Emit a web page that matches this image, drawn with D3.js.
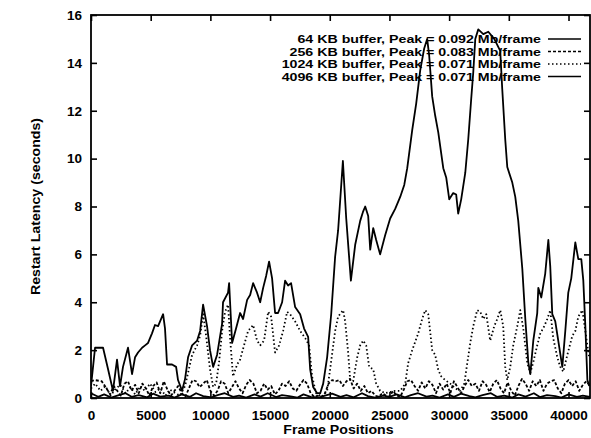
<!DOCTYPE html>
<html>
<head>
<meta charset="utf-8">
<script src="https://cdn.jsdelivr.net/npm/d3@7"></script>
<style>
  html, body { margin: 0; padding: 0; background: #fff; }
  svg { display: block; }
  text { font-family: "Liberation Sans", Arial, Helvetica, sans-serif; font-weight: bold; fill: #000; }
</style>
</head>
<body>
<svg id="chart" width="591" height="438"></svg>
<script>
// Restart latency per frame position for four client buffer sizes.

const xTicks = [0, 5000, 10000, 15000, 20000, 25000, 30000, 35000, 40000];
const yTicks = [0, 2, 4, 6, 8, 10, 12, 14, 16];

const seriesLabels = [
  "64 KB buffer, Peak = 0.092 Mb/frame",
  "256 KB buffer, Peak = 0.083 Mb/frame",
  "1024 KB buffer, Peak = 0.071 Mb/frame",
  "4096 KB buffer, Peak = 0.071 Mb/frame"
];

// 64 KB buffer
const frames64 = [
  0, 340, 1010, 1430, 1840, 2180, 2430, 2680, 3100, 3440,
  3690, 3940, 4280, 4530, 4780, 5110, 5360, 5620, 6040, 6200,
  6370, 6790, 7130, 7290, 7630, 7880, 8130, 8470, 8890, 9140,
  9390, 9720, 9970, 10230, 10560, 10980, 11060, 11480, 11570, 11820,
  12150, 12490, 12740, 13080, 13330, 13580, 13910, 14170, 14420, 14670,
  14920, 15170, 15420, 15670, 16010, 16260, 16510, 16760, 17100, 17520,
  17850, 18190, 18360, 18610, 18940, 19200, 19450, 19780, 20120, 20450,
  20700, 21100, 21380, 21770, 22130, 22550, 22800, 22970, 23220, 23390,
  23640, 23890, 24220, 24640, 25060, 25480, 25900, 26240, 26490, 26910,
  27240, 27580, 27910, 28160, 28330, 28580, 28830, 29090, 29510, 29760,
  30010, 30340, 30590, 30760, 31010, 31350, 31600, 31850, 32020, 32190,
  32440, 32860, 33280, 33780, 34280, 34450, 34700, 34870, 35290, 35540,
  35790, 36130, 36380, 36630, 36800, 37050, 37380, 37470, 37720, 38050,
  38310, 38470, 38640, 38890, 39140, 39480, 39730, 39980, 40230, 40570,
  40820, 41070, 41240, 41410, 41580, 41740
];
const latency64 = [
  0.5, 2.1, 2.1, 1.2, 0.3, 1.6, 0.5, 1.3, 2.1, 1.0,
  1.7, 1.9, 2.1, 2.2, 2.3, 2.7, 3.05, 3.0, 3.5, 2.9,
  1.4, 1.4, 1.3, 0.75, 0.3, 0.8, 1.7, 2.2, 2.4, 2.8,
  3.9, 3.0, 2.0, 1.3, 1.8, 3.1, 4.0, 4.4, 4.8, 2.3,
  2.9, 3.55, 3.3, 4.1, 4.3, 4.8, 4.4, 4.0, 4.6, 5.1,
  5.7, 5.0, 3.55, 3.55, 4.0, 4.9, 4.7, 4.8, 3.8, 3.5,
  2.9, 2.55, 1.2, 0.46, 0.2, 0.2, 0.6, 1.7, 3.5, 5.9,
  7.0, 9.9, 7.5, 4.9, 6.4, 7.4, 7.8, 8.0, 7.6, 6.2,
  7.1, 6.6, 6.0, 6.8, 7.5, 7.9, 8.4, 8.9, 9.6, 11.2,
  12.3, 13.7, 14.6, 15.0, 14.3, 12.6, 11.8, 11.1, 9.6, 9.2,
  8.3, 8.56, 8.5, 7.7, 8.3, 9.4, 10.8, 12.5, 13.6, 15.0,
  15.4, 15.2, 15.3, 15.0, 14.5, 12.9, 10.8, 9.65, 9.0, 8.4,
  7.4, 5.4, 3.3, 1.5, 1.0, 2.4, 3.55, 4.6, 4.2, 5.2,
  6.6, 5.5, 3.5, 3.2, 2.4, 1.3, 2.8, 4.4, 5.0, 6.5,
  5.8, 5.8, 4.9, 3.0, 0.75, 0.5
];

// 256 KB buffer
const frames256 = [
  0, 300, 900, 1300, 1600, 1900, 2200, 2500, 2800, 3100,
  3400, 3700, 4000, 4300, 4600, 4900, 5200, 5500, 5800, 6100,
  6400, 6700, 7000, 7300, 7600, 7900, 8200, 8500, 8800, 9100,
  9400, 9700, 10000, 10300, 10600, 10900, 11200, 11500, 11800, 12100,
  12400, 12700, 13000, 13300, 13600, 13900, 14200, 14500, 14800, 15100,
  15400, 15700, 16000, 16300, 16600, 16900, 17200, 17500, 17800, 18100,
  18400, 18700, 19000, 19300, 19600, 19900, 20200, 20500, 20800, 21100,
  21400, 21700, 22000, 22300, 22600, 22900, 23200, 23500, 23800, 24100,
  24400, 24700, 25000, 25300, 25600, 25900, 26200, 26500, 26800, 27100,
  27400, 27700, 28000, 28300, 28600, 28900, 29200, 29500, 29800, 30100,
  30400, 30700, 31000, 31300, 31600, 31900, 32200, 32500, 32800, 33100,
  33400, 33700, 34000, 34300, 34600, 34900, 35200, 35500, 35800, 36100,
  36400, 36700, 37000, 37300, 37600, 37900, 38200, 38500, 38800, 39100,
  39400, 39700, 40000, 40300, 40600, 40900, 41200, 41500, 41800
];
const latency256 = [
  0.7, 0.75, 0.7, 0.4, 0.15, 0.5, 0.3, 0.1, 0.6, 0.7,
  0.3, 0.55, 0.2, 0.6, 0.4, 0.1, 0.5, 0.65, 0.2, 0.7,
  0.35, 0.1, 0.3, 0.5, 0.2, 0.05, 0.4, 0.75, 0.7, 0.45,
  0.6, 0.75, 0.3, 0.1, 0.3, 0.7, 0.6, 0.2, 0.45, 0.7,
  0.4, 0.2, 0.55, 0.75, 0.6, 0.2, 0.3, 0.6, 0.35, 0.5,
  0.15, 0.3, 0.6, 0.5, 0.7, 0.4, 0.3, 0.55, 0.75, 0.6,
  0.2, 0.05, 0.1, 0.05, 0.2, 0.6, 0.75, 0.7, 0.75, 0.5,
  0.7, 0.8, 0.4, 0.6, 0.3, 0.5, 0.2, 0.3, 0.1, 0.05,
  0.2, 0.1, 0.05, 0.3, 0.1, 0.05, 0.35, 0.7, 0.75, 0.5,
  0.3, 0.65, 0.4, 0.7, 0.55, 0.2, 0.6, 0.35, 0.6, 0.2,
  0.7, 0.45, 0.2, 0.5, 0.75, 0.5, 0.6, 0.3, 0.7, 0.55,
  0.25, 0.6, 0.75, 0.4, 0.2, 0.65, 0.3, 0.1, 0.5, 0.8,
  0.6, 0.3, 0.7, 0.5, 0.75, 0.3, 0.6, 0.7, 0.75, 0.4,
  0.2, 0.6, 0.75, 0.5, 0.7, 0.3, 0.55, 0.7, 0.5
];

// 1024 KB buffer
const frames1024 = [
  0, 350, 800, 1200, 1650, 2000, 2450, 2900, 3300, 3700,
  4150, 4500, 4950, 5400, 5800, 6250, 6600, 7050, 7450, 7880,
  8470, 8890, 9140, 9390, 9640, 9970, 10230, 10480, 10730, 10980,
  11230, 11480, 11650, 11900, 12240, 12490, 12820, 13160, 13580, 13910,
  14170, 14500, 14840, 15090, 15420, 15760, 16090, 16430, 16680, 17100,
  17520, 17940, 18270, 18520, 18860, 19360, 19780, 20030, 20450, 20700,
  21120, 21290, 21540, 21710, 21960, 22300, 22550, 22800, 23050, 23300,
  23640, 23890, 24220, 24640, 25060, 25480, 25900, 26320, 26570, 26910,
  27410, 27740, 28000, 28250, 28580, 28830, 29090, 29340, 29670, 30090,
  30510, 30930, 31270, 31520, 31770, 32020, 32350, 32610, 32860, 33110,
  33440, 33780, 34030, 34280, 34530, 34700, 34870, 35120, 35370, 35710,
  35960, 36210, 36550, 36800, 37050, 37380, 37640, 37970, 38220, 38470,
  38720, 39060, 39310, 39560, 39900, 40320, 40570, 40820, 41160, 41410,
  41660, 41740
];
const latency1024 = [
  0.4, 0.6, 0.3, 0.5, 0.1, 0.35, 0.55, 0.2, 0.45, 0.15,
  0.5, 0.3, 0.6, 0.25, 0.4, 0.1, 0.35, 0.2, 0.1, 0.5,
  1.8, 2.2, 2.6, 3.5, 2.6, 1.2, 0.46, 0.6, 1.5, 2.8,
  3.6, 3.9, 2.5, 0.9, 1.4, 1.6, 2.2, 2.8, 3.05, 2.4,
  2.2, 2.4, 3.6, 3.4, 1.9, 2.2, 2.8, 3.6, 3.5, 3.2,
  2.8, 2.5, 2.2, 0.9, 0.2, 0.05, 0.3, 1.2, 2.8, 3.4,
  3.67, 3.2, 1.9, 0.75, 0.7, 1.7, 2.2, 2.4, 2.2, 1.3,
  1.2, 0.6, 0.3, 0.2, 0.25, 0.3, 0.3, 0.6, 1.46, 2.0,
  2.7, 3.3, 3.67, 3.5, 2.0, 1.8, 1.17, 0.9, 0.75, 0.6,
  0.4, 0.3, 0.6, 1.46, 2.3, 3.0, 3.67, 3.6, 3.3, 3.5,
  2.4, 3.0, 3.3, 3.67, 3.0, 1.3, 0.75, 1.3, 2.2, 3.0,
  3.67, 2.9, 1.46, 1.05, 1.5, 2.2, 2.7, 3.0, 3.3, 3.67,
  2.5, 1.7, 1.3, 1.1, 1.8, 2.6, 2.8, 3.4, 3.67, 2.8,
  1.9, 1.7
];

// 4096 KB buffer
const frames4096 = [
  0, 600, 1100, 1700, 2200, 2900, 3400, 4000, 4700, 5200,
  5800, 6500, 7000, 7600, 8300, 8800, 9400, 10100, 10600, 11200,
  11900, 12400, 13000, 13700, 14200, 14800, 15500, 16000, 16600, 17300,
  17800, 18400, 19100, 19600, 20200, 20900, 21400, 22000, 22700, 23200,
  23800, 24500, 25000, 25600, 26300, 26800, 27400, 28100, 28600, 29200,
  29900, 30400, 31000, 31700, 32200, 32800, 33500, 34000, 34600, 35300,
  35800, 36400, 37100, 37600, 38200, 38900, 39400, 40000, 40700, 41200,
  41800
];
const latency4096 = [
  0.2, 0.05, 0.15, 0.02, 0.1, 0.2, 0.05, 0.12, 0.03, 0.18,
  0.06, 0.1, 0.02, 0.15, 0.05, 0.2, 0.08, 0.03, 0.12, 0.2,
  0.05, 0.1, 0.02, 0.15, 0.06, 0.2, 0.04, 0.12, 0.08, 0.02,
  0.15, 0.05, 0.02, 0.1, 0.18, 0.05, 0.12, 0.03, 0.2, 0.08,
  0.02, 0.1, 0.05, 0.15, 0.03, 0.12, 0.2, 0.06, 0.1, 0.02,
  0.15, 0.05, 0.18, 0.08, 0.03, 0.12, 0.2, 0.05, 0.1, 0.02,
  0.15, 0.06, 0.2, 0.04, 0.12, 0.08, 0.02, 0.15, 0.05, 0.1,
  0.05
];

const series = [
  { label: seriesLabels[0], points: d3.zip(frames64, latency64), dash: null },
  { label: seriesLabels[1], points: d3.zip(frames256, latency256), dash: "3,2" },
  { label: seriesLabels[2], points: d3.zip(frames1024, latency1024), dash: "1.5,2.5" },
  { label: seriesLabels[3], points: d3.zip(frames4096, latency4096), dash: null }
];

const svg = d3.select("#chart");
const plot = { left: 91, right: 590, top: 15, bottom: 398 };

const x = d3.scaleLinear().domain([0, 41800]).range([plot.left, plot.right]);
const y = d3.scaleLinear().domain([0, 16]).range([plot.bottom, plot.top]);

svg.append("defs").append("clipPath").attr("id", "plotClip")
  .append("rect")
  .attr("x", plot.left).attr("y", plot.top - 1)
  .attr("width", plot.right - plot.left).attr("height", plot.bottom - plot.top + 1);

const tickFont = 13.5;
const keyFont = 11.5;      // key glyphs are drawn a little wide
const keyStretch = 1.235;
const titleFont = 13;
const titleStretch = 1.09;

// Widen a text horizontally by a factor, keeping its glyph height
function stretch(sel, factor) {
  sel.each(function () {
    const w = this.getComputedTextLength();
    d3.select(this).attr("textLength", w * factor).attr("lengthAdjust", "spacingAndGlyphs");
  });
}

// Axes: ticks point inward and are mirrored on the top and right edges
const bottomAxis = svg.append("g")
  .attr("transform", `translate(0,${plot.bottom})`)
  .call(d3.axisBottom(x).tickValues(xTicks).tickSize(-6).tickPadding(12).tickFormat(d3.format("d")));
const topAxis = svg.append("g")
  .attr("transform", `translate(0,${plot.top})`)
  .call(d3.axisTop(x).tickValues(xTicks).tickSize(-6).tickFormat(""));
const leftAxis = svg.append("g")
  .attr("transform", `translate(${plot.left},0)`)
  .call(d3.axisLeft(y).tickValues(yTicks).tickSize(-6).tickPadding(9).tickFormat(d3.format("d")));
const rightAxis = svg.append("g")
  .attr("transform", `translate(${plot.right},0)`)
  .call(d3.axisRight(y).tickValues(yTicks).tickSize(-6).tickFormat(""));

[bottomAxis, topAxis, leftAxis, rightAxis].forEach(g => {
  g.select(".domain").remove();
  g.selectAll(".tick line").attr("stroke", "#000").attr("stroke-width", 1.6);
  g.selectAll("text")
    .attr("font-family", "'Liberation Sans', Arial, Helvetica, sans-serif")
    .attr("font-weight", "bold")
    .attr("font-size", tickFont)
    .attr("fill", "#000");
});

// Plot frame
svg.append("rect")
  .attr("x", plot.left).attr("y", plot.top)
  .attr("width", plot.right - plot.left).attr("height", plot.bottom - plot.top)
  .attr("fill", "none").attr("stroke", "#000").attr("stroke-width", 1.8);

// Curves
const line = d3.line().x(d => x(d[0])).y(d => y(d[1]));
const curves = svg.append("g").attr("clip-path", "url(#plotClip)");
series.forEach(s => {
  curves.append("path")
    .attr("d", line(s.points))
    .attr("fill", "none")
    .attr("stroke", "#000")
    .attr("stroke-width", 1.8)
    .attr("stroke-linejoin", "round")
    .attr("stroke-dasharray", s.dash);
});

// Key
const key = svg.append("g");
const keyRows = [39, 51.5, 64, 76.5];
series.forEach((s, i) => {
  const cy = keyRows[i];
  key.append("text")
    .attr("x", 541).attr("y", cy + 4.2)
    .attr("text-anchor", "end")
    .attr("font-size", keyFont)
    .text(s.label)
    .call(stretch, keyStretch);
  key.append("line")
    .attr("x1", 548).attr("x2", 581)
    .attr("y1", cy).attr("y2", cy)
    .attr("stroke", "#000").attr("stroke-width", 1.7)
    .attr("stroke-dasharray", s.dash);
});

// Axis titles
svg.append("text")
  .attr("x", (plot.left + plot.right) / 2 - 2).attr("y", 434)
  .attr("text-anchor", "middle")
  .attr("font-size", titleFont)
  .text("Frame Positions")
  .call(stretch, titleStretch);

svg.append("text")
  .attr("transform", `translate(40,${(plot.top + plot.bottom) / 2}) rotate(-90)`)
  .attr("text-anchor", "middle")
  .attr("font-size", titleFont)
  .text("Restart Latency (seconds)")
  .call(stretch, titleStretch);
</script>
</body>
</html>
